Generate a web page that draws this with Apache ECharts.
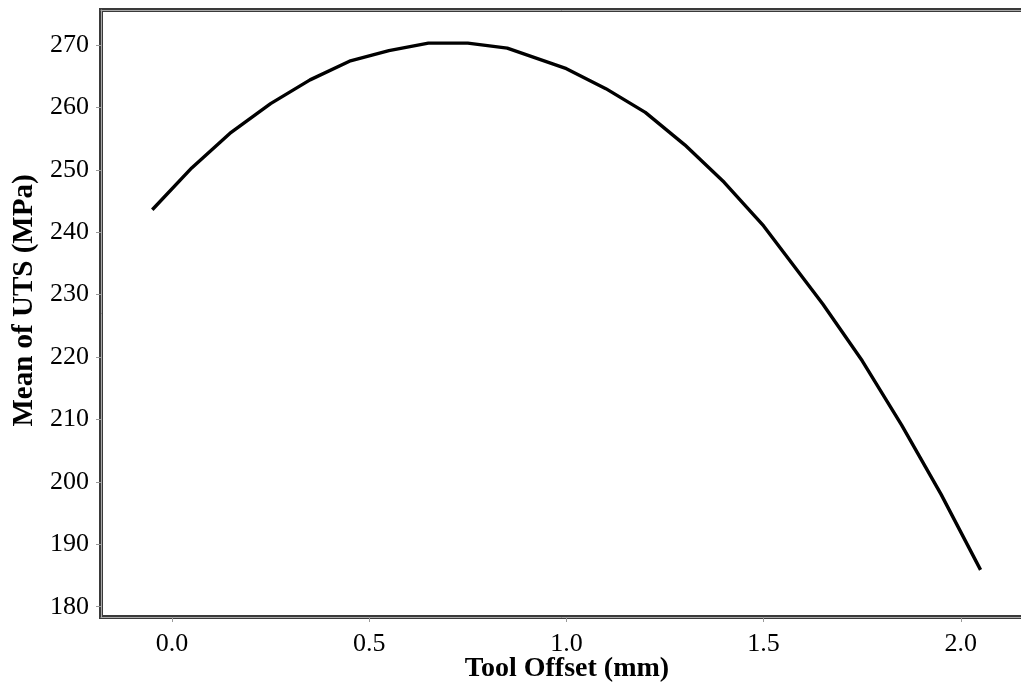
<!DOCTYPE html>
<html>
<head>
<meta charset="utf-8">
<script src="https://cdn.jsdelivr.net/npm/echarts@6/dist/echarts.min.js"></script>
<style>
html,body{margin:0;padding:0;background:#fff;}
#c{width:1021px;height:685px;}
</style>
</head>
<body>
<div id="c"></div>
<script>
const toolOffset = [-0.05, 0.05, 0.15, 0.25, 0.35, 0.45, 0.55, 0.65, 0.75, 0.85, 1.0, 1.1, 1.2, 1.3, 1.4, 1.5, 1.65, 1.75, 1.85, 1.95, 2.05];
const meanUTS    = [243.6, 250.3, 256.0, 260.6, 264.4, 267.4, 269.1, 270.3, 270.3, 269.5, 266.2, 263.0, 259.2, 254.0, 248.0, 241.0, 228.5, 219.4, 209.1, 198.0, 185.9];
const xTitle = 'Tool Offset (mm)';
const yTitle = 'Mean of UTS (MPa)';

const font = 'Liberation Serif';
const chart = echarts.init(document.getElementById('c'), null, {renderer: 'canvas'});
const pts = toolOffset.map((x, i) => [x, meanUTS[i]]);

function fmtY(v) {
  const r = Math.round(v);
  return (Math.abs(v - r) < 1e-6 && r % 10 === 0) ? String(r) : '';
}
function fmtX(v) {
  const r = Math.round(v * 2) / 2;
  return Math.abs(v - r) < 1e-6 ? r.toFixed(1) : '';
}

chart.setOption({
  animation: false,
  backgroundColor: '#fff',
  grid: {
    left: 101, top: 10, right: -12, bottom: 68,
    outerBoundsMode: 'none', containLabel: false,
    show: true, borderColor: '#3a3a3a', borderWidth: 4, backgroundColor: '#fff'
  },
  xAxis: [{
    type: 'value', min: -0.18, max: 2.183, splitNumber: 5,
    name: xTitle, nameLocation: 'middle', nameGap: 38, nameMoveOverlap: false,
    nameTextStyle: {fontFamily: font, fontSize: 28, fontWeight: 'bold', color: '#000'},
    axisLine: {show: true, onZero: false, lineStyle: {color: '#aaa', width: 1}},
    axisTick: {show: true, length: 5, lineStyle: {color: '#999'}},
    axisLabel: {fontFamily: font, fontSize: 26, color: '#000', margin: 14, formatter: fmtX, showMinLabel: false, showMaxLabel: false},
    splitLine: {show: false}
  }, {
    type: 'value', position: 'top', min: -0.18, max: 2.183,
    axisLine: {show: true, onZero: false, lineStyle: {color: '#aaa', width: 1}},
    axisTick: {show: false}, axisLabel: {show: false}, splitLine: {show: false}
  }],
  yAxis: [{
    type: 'value', min: 178.35, max: 275.6, splitNumber: 10,
    name: yTitle, nameLocation: 'middle', nameGap: 61, nameRotate: 90,
    nameTextStyle: {fontFamily: font, fontSize: 29, fontWeight: 'bold', color: '#000', padding: [0, 0, 0, 26]},
    axisLine: {show: true, onZero: false, lineStyle: {color: '#aaa', width: 1}},
    axisTick: {show: true, length: 5, lineStyle: {color: '#999'}},
    axisLabel: {fontFamily: font, fontSize: 26, color: '#000', margin: 12, formatter: fmtY, showMinLabel: false, showMaxLabel: false},
    splitLine: {show: false}
  }],
  series: [{
    type: 'line',
    data: pts,
    showSymbol: false,
    smooth: false,
    lineStyle: {color: '#000', width: 3.4},
    clip: true
  }]
});
</script>
</body>
</html>
